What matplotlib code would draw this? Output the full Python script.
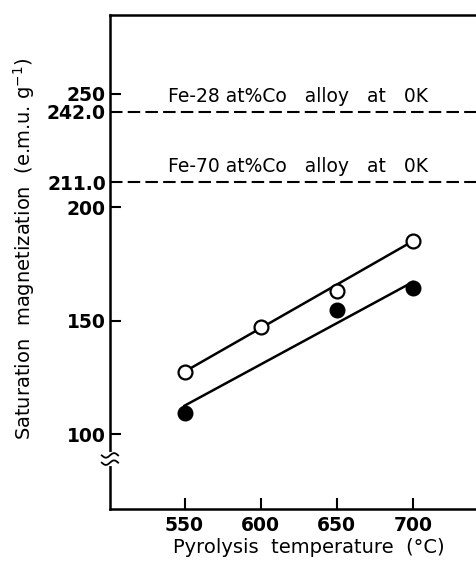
import numpy as np
import matplotlib
matplotlib.use("Agg")
import matplotlib.pyplot as plt
from matplotlib.transforms import blended_transform_factory

plt.rcParams['font.family'] = ['DejaVu Sans']

# data
temps = [550, 600, 650, 700]
open_vals = [127.5, 147.0, 163.0, 185.0]
filled_temps = [550, 650, 700]
filled_vals = [109.5, 154.5, 164.5]
open_fit = [127.5, 185.0]
filled_fit = [112.5, 167.0]
fit_x = [550, 700]

alloy_levels = [242.0, 211.0]
alloy_labels = ['Fe-28 at%Co   alloy   at   0K', 'Fe-70 at%Co   alloy   at   0K']

yticks = [100, 150, 200, 211.0, 242.0, 250]
ytick_labels = ['100', '150', '200', '211.0', '242.0', '250']
xticks = [550, 600, 650, 700]

fig = plt.figure(figsize=(4.76, 5.63), dpi=100)
ax = fig.add_axes([0.231, 0.096, 0.78, 0.877])

ax.set_xlim(501, 745)
ax.set_ylim(67, 284.6)

# fitted lines
ax.plot(fit_x, open_fit, color='black', lw=1.8, zorder=2)
ax.plot(fit_x, filled_fit, color='black', lw=1.8, zorder=2)

# points
ax.plot(temps, open_vals, 'o', ms=10, mfc='white', mec='black', mew=1.6, zorder=3)
ax.plot(filled_temps, filled_vals, 'o', ms=10.5, mfc='black', mec='black', zorder=3)

# alloy reference lines
for lvl, lab in zip(alloy_levels, alloy_labels):
    ax.axhline(lvl, color='black', lw=1.5, dashes=(6, 2.5), zorder=1)
    ax.text(539, lvl + 4.4, lab, fontsize=13.5, va='baseline', ha='left')

ax.spines['right'].set_visible(False)
for s in ['left', 'bottom', 'top']:
    ax.spines[s].set_linewidth(1.8)

ax.set_xticks(xticks)
ax.set_xticklabels([str(t) for t in xticks], fontsize=13.5, fontweight='bold')
ax.set_yticks(yticks)
ax.set_yticklabels(ytick_labels, fontsize=13.5, fontweight='bold')
ax.tick_params(axis='y', direction='in', length=8, width=1.5, pad=3)
ax.tick_params(axis='x', direction='in', length=8, width=1.5, pad=5)
# hide tick marks for the reference-level labels
for t in ax.yaxis.get_major_ticks():
    if t.get_loc() in (211.0, 242.0):
        t.tick1line.set_visible(False)

ax.set_xlabel('Pyrolysis  temperature  (°C)', fontsize=14)
ax.xaxis.set_label_coords(0.535, -0.058)
ax.set_ylabel('Saturation  magnetization  (e.m.u. g$^{-1}$)', fontsize=14)
ax.yaxis.set_label_coords(-0.197, 0.527)

# axis break mark on the y axis
tr = blended_transform_factory(ax.transAxes, ax.transData)
ybreak = 89.0
ax.plot([0, 0], [ybreak - 2.2, ybreak + 2.2], color='white', lw=3, transform=tr,
        zorder=5, clip_on=False)
s = np.linspace(-0.022, 0.022, 30)
for dy in (-1.6, 1.6):
    ax.plot(s, ybreak + dy + 1.0 * np.sin(s / 0.022 * np.pi), color='black', lw=1.3,
            transform=tr, zorder=6, clip_on=False)

fig.savefig('out.png', dpi=100)
